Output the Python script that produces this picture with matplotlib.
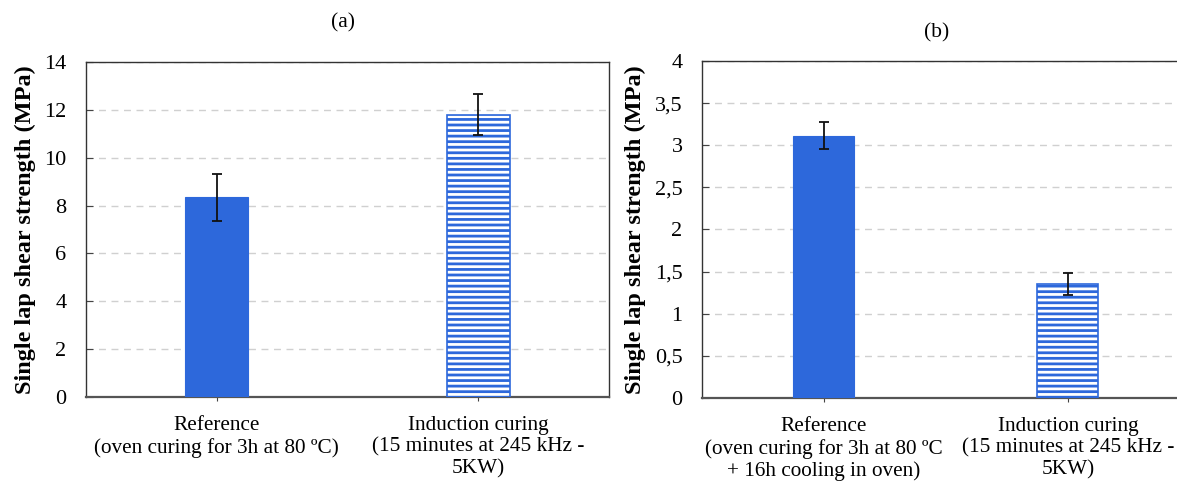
import numpy as np
import matplotlib
matplotlib.use("Agg")
import matplotlib.pyplot as plt
from matplotlib.ticker import FuncFormatter

# shear strength data (MPa), mean and error bar half-width
labels_a = ["Reference\n(oven curing for 3h at 80 ºC)",
            "Induction curing\n(15 minutes at 245 kHz -\n5KW)"]
mean_a = [8.35, 11.8]
err_a = [0.98, 0.85]

labels_b = ["Reference\n(oven curing for 3h at 80 ºC\n+ 16h cooling in oven)",
            "Induction curing\n(15 minutes at 245 kHz -\n5KW)"]
mean_b = [3.11, 1.35]
err_b = [0.16, 0.13]

yticks_a = [0, 2, 4, 6, 8, 10, 12, 14]
yticks_b = [0, 0.5, 1, 1.5, 2, 2.5, 3, 3.5, 4]

BLUE = "#2D68DB"

plt.rcParams["font.family"] = ["Liberation Serif", "DejaVu Serif"]
plt.rcParams["hatch.linewidth"] = 2.0
plt.rcParams["hatch.color"] = BLUE


def comma(v, pos):
    s = f"{v:g}"
    return s.replace(".", ",")


def draw_panel(ax, labels, means, errs, yticks, width):
    x = np.arange(len(labels))
    # solid bar for the oven reference
    ax.bar(x[0], means[0], width, color=BLUE, edgecolor=BLUE, linewidth=0.8, zorder=3)
    # striped bar for induction curing
    ax.bar(x[1], means[1], width, color="white", edgecolor=BLUE, hatch="---",
           linewidth=1.2, zorder=3)
    ax.errorbar(x, means, yerr=errs, fmt="none", ecolor="#111111",
                elinewidth=1.3, capsize=3.8, capthick=1.3, zorder=4)
    ax.set_xlim(-0.5, len(labels) - 0.5)
    ax.set_ylim(yticks[0], yticks[-1])
    ax.set_yticks(yticks)
    ax.yaxis.set_major_formatter(FuncFormatter(comma))
    ax.set_xticks(x)
    ax.set_xticklabels(labels, fontsize=15.3, linespacing=1.15)
    ax.tick_params(axis="y", direction="in", length=5, width=0.8, pad=14,
                   labelsize=16, color="#444444")
    ax.tick_params(axis="x", direction="out", length=3, width=0.8, pad=11,
                   color="#444444")
    ax.grid(axis="y", color="#d0d0d0", linestyle=(0, (5, 4)), linewidth=1.0, zorder=0)
    for side in ["top", "left", "right"]:
        ax.spines[side].set_color("#333333")
        ax.spines[side].set_linewidth(1.0)
    ax.spines["bottom"].set_color("#555555")
    ax.spines["bottom"].set_linewidth(1.6)
    ax.set_ylabel("Single lap shear strength (MPa)", fontsize=17.5,
                  fontweight="bold", labelpad=6)


fig = plt.figure(figsize=(11.77, 4.84), dpi=100)
ax1 = fig.add_axes([0.0731, 0.1798, 0.4443, 0.6921])
ax2 = fig.add_axes([0.5964, 0.1777, 0.4146, 0.6963])

draw_panel(ax1, labels_a, mean_a, err_a, yticks_a, 0.24)
draw_panel(ax2, labels_b, mean_b, err_b, yticks_b, 0.25)

fig.text(343 / 1177, 1 - 23 / 484, "(a)", ha="center", va="center", fontsize=15.5)
fig.text(937 / 1177, 1 - 33 / 484, "(b)", ha="center", va="center", fontsize=15.5)

fig.savefig("out.png", dpi=100)
